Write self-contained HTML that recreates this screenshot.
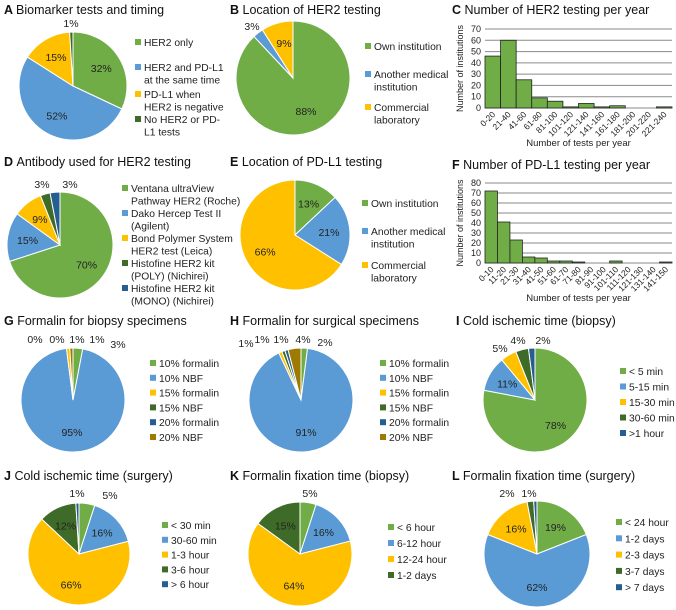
<!DOCTYPE html>
<html><head><meta charset="utf-8"><style>
body{margin:0;background:#fff;}
svg{display:block;font-family:"Liberation Sans",Arial,sans-serif;}
</style></head><body>
<svg id="fig" width="676" height="610" viewBox="0 0 676 610"></svg>
<script>
const NS="http://www.w3.org/2000/svg";
const svg=document.getElementById('fig');
const G="#70ad47",B="#5b9bd5",Y="#ffc000",DG="#3f6b28",NV="#255e91",BR="#9e7a00";
function el(t,a,p){const e=document.createElementNS(NS,t);for(const k in a)e.setAttribute(k,a[k]);(p||svg).appendChild(e);return e;}
function txt(x,y,s,o,p){const t=el('text',Object.assign({x:x,y:y,'font-size':11,fill:'#222'},o||{}),p);t.textContent=s;return t;}

// ---- data ----
const pieA=[32,52,15,1];
const pieB=[88,3,9];
const pieD=[70,15,9,3,3];
const pieE=[13,21,66];
const pieG=[3,95,1,0,0,1];
const pieH=[2,91,1,1,1,4];
const pieI=[78,11,5,4,2];
const pieJ=[5,16,66,12,1];
const pieK=[5,16,64,15];
const pieL=[19,62,16,2,1];
const catC=["0-20","21-40","41-60","61-80","81-100","101-120","121-140","141-160","161-180","181-200","201-220","221-240"];
const valC=[46,60,25,9,6,1,4,1,2,0,0,1];
const tickC=[0,10,20,30,40,50,60,70];
const catF=["0-10","11-20","21-30","31-40","41-50","51-60","61-70","71-80","81-90","91-100","101-110","111-120","121-130","131-140","141-150"];
const valF=[72,41,23,6,5,2,2,1,0,0,2,0,0,0,1];
const tickF=[0,10,20,30,40,50,60,70,80];

function title(x,y,letter,s,name){
  const t=el('text',{x:x,y:y,'font-size':12.5,fill:'#111'});
  
  
  const b=el('tspan',{'font-weight':'bold'},t);b.textContent=letter+' ';
  const r=el('tspan',{},t);r.textContent=s;
}
function pie(name,cx,cy,r,vals,cols,lp){
  lp=lp||{};
  const g=el('g',{});
  
  
  const tot=vals.reduce((a,b)=>a+b,0);
  let a0=-Math.PI/2;
  vals.forEach((v,i)=>{
    const a1=a0+v/tot*2*Math.PI;
    if(v>0){
      const large=(a1-a0)>Math.PI?1:0;
      const d=`M${cx},${cy}L${cx+r*Math.cos(a0)},${cy+r*Math.sin(a0)}A${r},${r} 0 ${large} 1 ${cx+r*Math.cos(a1)},${cy+r*Math.sin(a1)}Z`;
      const p=el('path',{d:d,fill:cols[i],stroke:'#fff','stroke-width':1},g);
      
      
    }
    const am=(a0+a1)/2;
    const inside=v>=9;
    const rr=inside?r*0.62:r*1.17;
    let x=cx+rr*Math.cos(am),y=cy+rr*Math.sin(am)+4;
    if(lp[i]){x=lp[i][0];y=lp[i][1];}
    const t=txt(x,y,v+'%',{'text-anchor':'middle','font-size':10.5},g);
    
    
    a0=a1;
  });
}
function legend(name,x,rows){
  const g=el('g',{});
  
  
  rows.forEach(rw=>{
    const it=el('g',{},g);
    
    
    el('rect',{x:x,y:rw[1]-7,width:6,height:6,fill:rw[0]},it);
    rw[2].forEach((s,j)=>txt(x+9,rw[1]+j*12.5,s,{'font-size':10.3},it));
  });
}
function hist(name,x0,x1,yTop,yBot,cats,vals,ticks){
  const g=el('g',{});
  
  
  const max=ticks[ticks.length-1];
  const ys=v=>yBot-(v/max)*(yBot-yTop);
  const bw=(x1-x0)/cats.length;
  const xs=i=>x0+i*bw;
  ticks.forEach(t=>{
    const l=el('line',{x1:x0,x2:x1,y1:ys(t),y2:ys(t),stroke:'#8a8a8a','stroke-width':1},g);
    
    
    const tl=txt(x0-4,ys(t)+3,String(t),{'text-anchor':'end','font-size':9},g);
    
    
  });
  vals.forEach((v,i)=>{
    if(v>0){
      const r=el('rect',{x:xs(i),y:ys(v),width:bw,height:yBot-ys(v),fill:G,stroke:'#222','stroke-width':0.8},g);
      
      
    }
  });
  cats.forEach((c,i)=>{
    const cx=xs(i)+bw/2+3, cy=yBot+7;
    const t=txt(cx,cy,c,{'text-anchor':'end','font-size':8.5,transform:`rotate(-45 ${cx} ${cy})`},g);
    
    
  });
  const yl=txt(x0-22,(yTop+yBot)/2,'Number of institutions',{'text-anchor':'middle','font-size':9,transform:`rotate(-90 ${x0-22} ${(yTop+yBot)/2})`},g);
  
  
  const xl=txt((x0+x1)/2,yBot+38,'Number of tests per year',{'text-anchor':'middle','font-size':9.5},g);
  
  
}

// A
title(4,14,'A','Biomarker tests and timing','title-a');
pie('pie-a',73,86,54,pieA,[G,B,Y,DG],{3:[71,27]});
legend('legend-a',135,[[G,46,['HER2 only']],[B,71,['HER2 and PD-L1','at the same time']],[Y,98,['PD-L1 when','HER2 is negative']],[DG,123,['No HER2 or PD-','L1 tests']]]);
// B
title(230,14,'B','Location of HER2 testing','title-b');
pie('pie-b',293,78,57,pieB,[G,B,Y],{1:[252,30],2:[284,47]});
legend('legend-b',365,[[G,50,['Own institution']],[B,78,['Another medical','institution']],[Y,111,['Commercial','laboratory']]]);
// C
title(452,14,'C','Number of HER2 testing per year','title-c');
hist('histogram-c',485,672,29,108,catC,valC,tickC);
// D
title(4,166,'D','Antibody used for HER2 testing','title-d');
pie('pie-d',60,245,53,pieD,[G,B,Y,DG,NV],{3:[42,188],4:[70,188]});
legend('legend-d',122,[[G,192,['Ventana ultraView','Pathway HER2 (Roche)']],[B,217,['Dako Hercep Test II','(Agilent)']],[Y,242,['Bond Polymer System','HER2 test (Leica)']],[DG,267,['Histofine HER2 kit','(POLY) (Nichirei)']],[NV,292,['Histofine HER2 kit','(MONO) (Nichirei)']]]);
// E
title(230,166,'E','Location of PD-L1 testing','title-e');
pie('pie-e',295,235,55,pieE,[G,B,Y]);
legend('legend-e',362,[[G,207,['Own institution']],[B,235,['Another medical','institution']],[Y,269,['Commercial','laboratory']]]);
// F
title(452,169,'F','Number of PD-L1 testing per year','title-f');
hist('histogram-f',485,672,183,263,catF,valF,tickF);
// G
title(4,325,'G','Formalin for biopsy specimens','title-g');
pie('pie-g',73,400,52,pieG,[G,B,Y,DG,NV,BR],{0:[118,348],2:[77,343],3:[57,343],4:[35,343],5:[97,343]});
const fl=['10% formalin','10% NBF','15% formalin','15% NBF','20% formalin','20% NBF'];
const fc=[G,B,Y,DG,NV,BR];
legend('legend-g',150,fl.map((s,i)=>[fc[i],367+i*14.8,[s]]));
// H
title(230,325,'H','Formalin for surgical specimens','title-h');
pie('pie-h',301,400,52,pieH,fc,{0:[325,346],2:[246,347],3:[262,343],4:[281,343],5:[303,343]});
legend('legend-h',380,fl.map((s,i)=>[fc[i],367+i*14.8,[s]]));
// I
title(456,325,'I','Cold ischemic time (biopsy)','title-i');
pie('pie-i',535,400,52,pieI,[G,B,Y,DG,NV],{2:[500,352],3:[518,344],4:[543,344]});
legend('legend-i',620,['< 5 min','5-15 min','15-30 min','30-60 min','>1 hour'].map((s,i)=>[[G,B,Y,DG,NV][i],375+i*15.5,[s]]));
// J
title(4,480,'J','Cold ischemic time (surgery)','title-j');
pie('pie-j',79,554,51,pieJ,[G,B,Y,DG,NV],{0:[110,499],4:[77,497]});
legend('legend-j',162,['< 30 min','30-60 min','1-3 hour','3-6 hour','> 6 hour'].map((s,i)=>[[G,B,Y,DG,NV][i],529+i*14.8,[s]]));
// K
title(230,480,'K','Formalin fixation time (biopsy)','title-k');
pie('pie-k',300,554,52,pieK,[G,B,Y,DG],{0:[310,497]});
legend('legend-k',388,['< 6 hour','6-12 hour','12-24 hour','1-2 days'].map((s,i)=>[[G,B,Y,DG][i],531+i*16,[s]]));
// L
title(452,480,'L','Formalin fixation time (surgery)','title-l');
pie('pie-l',537,554,53,pieL,[G,B,Y,DG,NV],{3:[507,497],4:[529,497]});
legend('legend-l',616,['< 24 hour','1-2 days','2-3 days','3-7 days','> 7 days'].map((s,i)=>[[G,B,Y,DG,NV][i],526+i*16.3,[s]]));
</script>
</body></html>
